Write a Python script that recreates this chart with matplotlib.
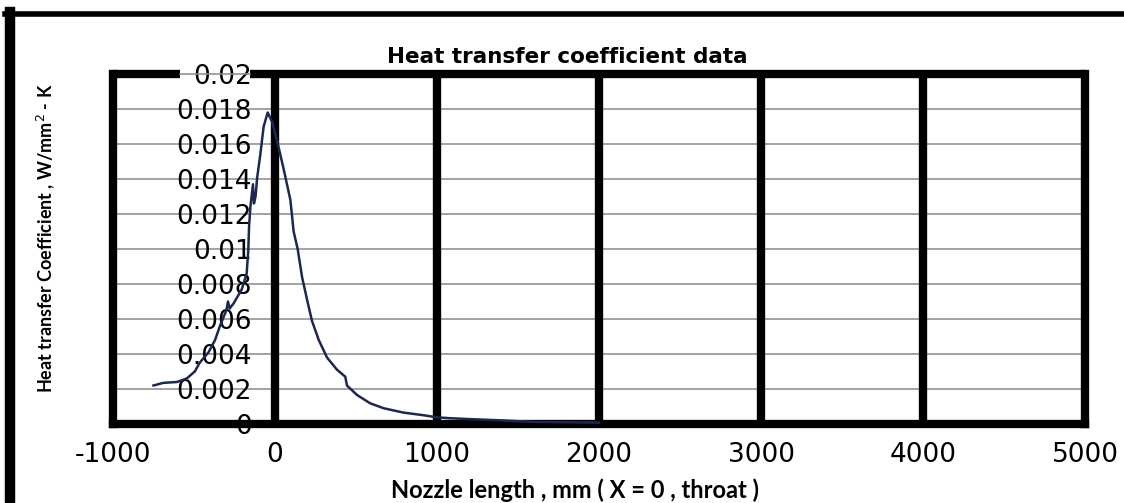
import matplotlib
matplotlib.use("Agg")
import matplotlib.pyplot as plt
from matplotlib.lines import Line2D

# data
nozzle_x = [
    -750, -690, -605, -545, -495, -465, -410, -370, -340, -300, -290, -280,
    -255, -205, -175, -165, -160, -152, -136, -130, -120, -110, -92, -70,
    -45, -15, 25, 55, 95, 115, 140, 167, 198, 228, 270, 321, 383, 434, 444,
    506, 588, 671, 794, 918, 1000, 1082, 1200, 1412, 1600, 2000,
]
htc = [
    0.0022, 0.00235, 0.0024, 0.0026, 0.0030, 0.0035, 0.0041, 0.0048, 0.0056,
    0.0065, 0.0070, 0.0066, 0.0069, 0.0077, 0.0086, 0.0099, 0.0113, 0.0124,
    0.0137, 0.0126, 0.0130, 0.0141, 0.0153, 0.0170, 0.0178, 0.0172, 0.0157,
    0.0145, 0.0128, 0.0110, 0.0100, 0.0084, 0.0071, 0.0059, 0.0048, 0.0038,
    0.0031, 0.0027, 0.0022, 0.00166, 0.00118, 0.0009, 0.00065, 0.0005,
    0.00038, 0.00033, 0.00028, 0.0002, 0.00012, 0.00008,
]
x_ticks = [-1000, 0, 1000, 2000, 3000, 4000, 5000]
y_ticks = [0, 0.002, 0.004, 0.006, 0.008, 0.01, 0.012, 0.014, 0.016, 0.018, 0.02]
y_labels = ["0", "0.002", "0.004", "0.006", "0.008", "0.01", "0.012",
            "0.014", "0.016", "0.018", "0.02"]

W, H = 1124, 503
fig = plt.figure(figsize=(W / 100, H / 100), dpi=100)
fig.patch.set_facecolor("white")

# axes box in pixels: left 113, right 1085, top 74, bottom 424
ax = fig.add_axes([113 / W, 1 - 424 / H, (1085 - 113) / W, (424 - 74) / H])
ax.set_xlim(-1000, 5000)
ax.set_ylim(0, 0.02)

# thin horizontal grid
for yv in y_ticks[1:-1]:
    ax.axhline(yv, color="#8a8a8a", lw=1.1, zorder=1)
# thick vertical lines
for xv in x_ticks[1:-1]:
    ax.axvline(xv, color="black", lw=6, zorder=3)

ax.plot(nozzle_x, htc, color="#1c2850", lw=1.8, zorder=4)

for side in ["left", "right", "bottom"]:
    ax.spines[side].set_linewidth(6)
    ax.spines[side].set_color("black")
ax.spines["top"].set_visible(False)
# top frame is broken around the 0.02 label
gap_l = (180 - 113) / (1085 - 113)
gap_r = (250 - 113) / (1085 - 113)
ax.plot([0, gap_l], [1, 1], transform=ax.transAxes,
        color="black", lw=6, solid_capstyle="butt", clip_on=False, zorder=5)
ax.plot([gap_r, 1], [1, 1], transform=ax.transAxes,
        color="black", lw=6, solid_capstyle="butt", clip_on=False, zorder=5)
ax.plot([gap_l, gap_r], [1, 1], transform=ax.transAxes,
        color="#8a8a8a", lw=1.1, clip_on=False, zorder=5)

ax.set_xticks(x_ticks)
ax.set_xticklabels([str(v) for v in x_ticks], family="DejaVu Sans", fontsize=19)
ax.set_yticks(y_ticks)
ax.set_yticklabels(y_labels, family="DejaVu Sans", fontsize=19)
ax.tick_params(axis="x", length=0, pad=13)
ax.tick_params(axis="y", length=0, pad=-100)

fig.text(567 / W, 1 - 57 / H, "Heat transfer coefficient data",
         family="DejaVu Sans", fontweight="bold", fontsize=15.5,
         ha="center", va="center")
fig.text(575 / W, 1 - 490 / H, "Nozzle length , mm ( X = 0 , throat )",
         family="Lato", fontweight="bold", fontsize=17, ha="center", va="center")
fig.text(46 / W, 1 - 238 / H, "Heat transfer Coefficient , W/mm$^2$ - K",
         family="Lato", fontweight="bold", fontsize=13, rotation=90,
         ha="center", va="center")

# outer frame (top and left edges only visible)
fig.add_artist(Line2D([5 / W, 1], [1 - 14 / H, 1 - 14 / H], color="black", lw=4))
fig.add_artist(Line2D([10 / W, 10 / W], [0, 1 - 12 / H], color="black", lw=7.5))

fig.savefig("out.png", dpi=100)
